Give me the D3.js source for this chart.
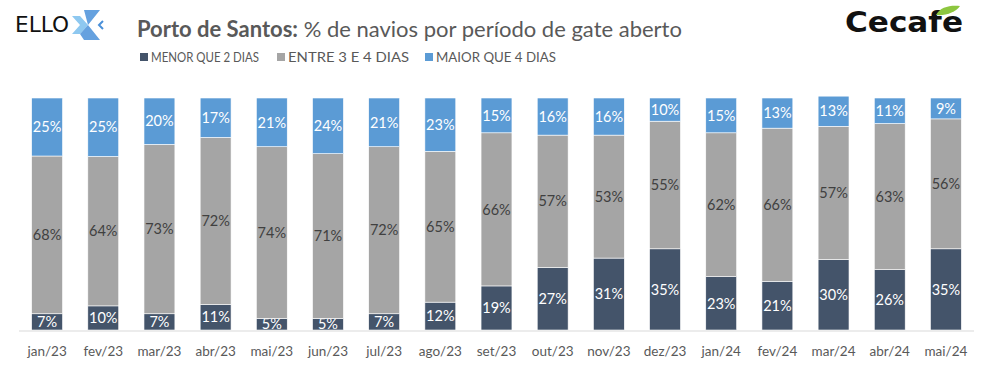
<!DOCTYPE html>
<html>
<head>
<meta charset="utf-8">
<script src="https://cdn.jsdelivr.net/npm/d3@7"></script>
<style>
  body { margin: 0; background: #fff; }
  svg { display: block; font-family: Lato, "Open Sans", sans-serif; }
</style>
</head>
<body>
<svg id="chart" width="986" height="367"></svg>
<script>
const months = ['jan/23', 'fev/23', 'mar/23', 'abr/23', 'mai/23', 'jun/23', 'jul/23', 'ago/23',
    'set/23', 'out/23', 'nov/23', 'dez/23', 'jan/24', 'fev/24', 'mar/24', 'abr/24', 'mai/24'];
const menorQue2 = [7, 10.4, 7, 11, 5, 5, 7, 12, 19, 27, 31, 35, 23, 21, 30.4, 26, 35];
const entre3e4 = [68, 64.4, 73, 72, 74, 71, 72, 65, 66, 57, 53, 55, 62, 66, 57.4, 63, 56];
const maiorQue4 = [25, 25.2, 20, 17, 21, 24, 21, 23, 15, 16, 16, 10, 15, 13, 13, 11, 9];
const seriesNames = ['MENOR QUE 2 DIAS', 'ENTRE 3 E 4 DIAS', 'MAIOR QUE 4 DIAS'];

const colors = ['#44546A', '#A5A5A5', '#5B9BD5'];
const labelColors = ['#ffffff', '#404040', '#ffffff'];

const svg = d3.select('#chart');

const rows = months.map((m, i) => ({ month: m, s0: menorQue2[i], s1: entre3e4[i], s2: maiorQue4[i] }));
const stack = d3.stack().keys(['s0', 's1', 's2']);
const layers = stack(rows);

const x = d3.scaleBand()
    .domain(months)
    .range([19, 974])
    .paddingInner(0.45)
    .paddingOuter(0.225);

const y = d3.scaleLinear()
    .domain([0, 100])
    .range([330, 98]);

// bars
const layerG = svg.append('g')
    .selectAll('g')
    .data(layers)
    .join('g')
    .attr('fill', (d, i) => colors[i]);

layerG.selectAll('rect')
    .data(d => d)
    .join('rect')
    .attr('x', d => x(d.data.month))
    .attr('y', d => y(d[1]))
    .attr('width', x.bandwidth())
    .attr('height', d => y(d[0]) - y(d[1]))
    .attr('stroke', '#ffffff')
    .attr('stroke-width', 0.6);

// data labels
layerG.each(function (layer, li) {
    d3.select(this).selectAll('text')
        .data(layer)
        .join('text')
        .attr('x', d => x(d.data.month) + x.bandwidth() / 2)
        .attr('y', d => (y(d[0]) + y(d[1])) / 2)
        .attr('dy', '0.36em')
        .attr('text-anchor', 'middle')
        .attr('font-size', 14.5)
        .attr('fill', labelColors[li])
        .text(d => `${Math.round(d[1] - d[0])}%`);
});

// x axis
const xAxis = svg.append('g')
    .attr('transform', 'translate(0,331)')
    .call(d3.axisBottom(x).tickSize(0).tickPadding(15));
xAxis.select('.domain').attr('stroke', '#D9D9D9').attr('stroke-width', 1.2)
    .attr('d', 'M19,0H974');
xAxis.selectAll('text')
    .attr('font-family', 'Lato, "Open Sans", sans-serif')
    .attr('font-size', 13.5)
    .attr('fill', '#595959');

// title
const title = svg.append('text')
    .attr('x', 137)
    .attr('y', 37)
    .attr('font-size', 22)
    .attr('fill', '#595959');
title.append('tspan').attr('font-weight', 'bold').text('Porto de Santos:');
title.append('tspan').text(' % de navios por período de gate aberto');

// legend
const legendX = [140, 277, 425];
const legendW = [108, 121, 120];
const legend = svg.append('g')
    .selectAll('g')
    .data(seriesNames)
    .join('g')
    .attr('transform', (d, i) => `translate(${legendX[i]},57)`);
legend.append('rect')
    .attr('x', 0).attr('y', -4)
    .attr('width', 8).attr('height', 8)
    .attr('fill', (d, i) => colors[i]);
legend.append('text')
    .attr('x', 11)
    .attr('dy', '0.36em')
    .attr('font-size', 13)
    .attr('fill', '#595959')
    .attr('textLength', (d, i) => legendW[i])
    .attr('lengthAdjust', 'spacingAndGlyphs')
    .text(d => d);

// ELLO logo
const ello = svg.append('g');
ello.append('text')
    .attr('x', 15).attr('y', 32)
    .attr('font-size', 22)
    .attr('font-family', '"DejaVu Sans", sans-serif')
    .attr('fill', '#111')
    .attr('textLength', 54)
    .attr('lengthAdjust', 'spacingAndGlyphs')
    .text('ELLO');
ello.append('path')
    .attr('d', 'M72,16 L80,16 L88,25 L80,34 L72,34 L80,25 Z')
    .attr('fill', '#8EC8F0');
ello.append('path')
    .attr('d', 'M84,10 L100,10 L88,25 L100,40 L84,40 L80,34 L88,25 Z')
    .attr('fill', '#4A90D9')
    .attr('opacity', 0.85);
ello.append('path')
    .attr('d', 'M103,21 L99,25 L103,29')
    .attr('fill', 'none')
    .attr('stroke', '#4A90D9')
    .attr('stroke-width', 2);

// Cecafé logo
const cecafe = svg.append('g');
cecafe.append('text')
    .attr('x', 845).attr('y', 32)
    .attr('font-size', 28)
    .attr('font-weight', 'bold')
    .attr('font-family', '"DejaVu Sans", sans-serif')
    .attr('fill', '#111')
    .attr('textLength', 118)
    .attr('lengthAdjust', 'spacingAndGlyphs')
    .text('Cecafe');
cecafe.append('path')
    .attr('d', 'M936,15 C940,7 950,5 960,6 C956,12 946,16 936,15 Z')
    .attr('fill', '#8DC63F');
</script>
</body>
</html>
